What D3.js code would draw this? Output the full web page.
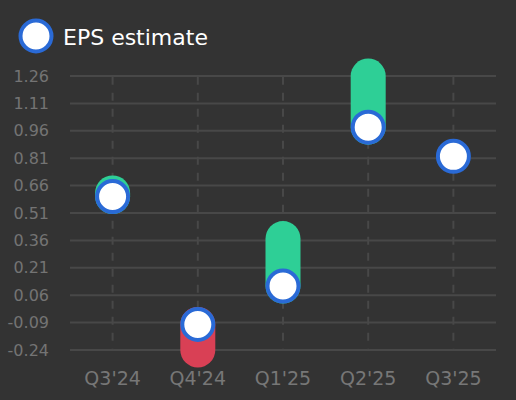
<!DOCTYPE html>
<html lang="en">
  <head>
    <meta charset="utf-8">
    <title>EPS estimate</title>
    <style>
    body { margin: 0; background: #333333; }
    svg { display: block; font-family: "DejaVu Sans", sans-serif; }
    .grid line { stroke: #484848; stroke-width: 2; }
    .vgrid line { stroke: #484848; stroke-width: 2; stroke-dasharray: 8,8; }
    </style>
  </head>
  <body>
    <svg width="516" height="400" id="svg"></svg>

    <script src="https://d3js.org/d3.v7.min.js"></script>
    <script>

    var quarters = ["Q3'24", "Q4'24", "Q1'25", "Q2'25", "Q3'25"];
    var estimates = [0.60, -0.10, 0.11, 0.98, 0.82];
    var actuals = [0.62, -0.24, 0.37, 1.26, null];
    var yTicks = [-0.24, -0.09, 0.06, 0.21, 0.36, 0.51, 0.66, 0.81, 0.96, 1.11, 1.26];

    var svg = d3.select("svg"),
        margin = {top: 76, right: 20, bottom: 50, left: 70},
        width = +svg.attr("width") - margin.left - margin.right,
        height = +svg.attr("height") - margin.top - margin.bottom;

    svg.append("rect")
        .attr("width", 516)
        .attr("height", 400)
        .attr("fill", "#333333");

    var x = d3.scaleBand().domain(quarters).range([0, width]),
        y = d3.scaleLinear().domain([-0.24, 1.26]).range([height, 0]);

    var g = svg.append("g")
        .attr("transform", "translate(" + margin.left + "," + margin.top + ")");

    // horizontal grid
    g.append("g")
        .attr("class", "grid")
        .selectAll("line")
        .data(yTicks)
        .enter().append("line")
          .attr("x1", 0)
          .attr("x2", width)
          .attr("y1", function(d) { return y(d); })
          .attr("y2", function(d) { return y(d); });

    // y labels (plain hyphen for negatives)
    g.append("g")
        .selectAll("text")
        .data(yTicks)
        .enter().append("text")
          .attr("x", -21)
          .attr("y", function(d) { return y(d); })
          .attr("dy", "0.35em")
          .attr("text-anchor", "end")
          .attr("fill", "#747474")
          .style("font-size", "16px")
          .text(function(d) { return d.toFixed(2); });

    // vertical dashed lines
    g.append("g")
        .attr("class", "vgrid")
        .selectAll("line")
        .data(quarters)
        .enter().append("line")
          .attr("x1", function(d) { return x(d) + x.bandwidth() / 2; })
          .attr("x2", function(d) { return x(d) + x.bandwidth() / 2; })
          .attr("y1", 0.7)
          .attr("y2", height);

    // x labels
    g.append("g")
        .selectAll("text")
        .data(quarters)
        .enter().append("text")
          .attr("x", function(d) { return x(d) + x.bandwidth() / 2; })
          .attr("y", height + 35)
          .attr("text-anchor", "middle")
          .attr("fill", "#777777")
          .style("font-size", "19px")
          .text(function(d) { return d; });

    var barW = 35, r = barW / 2;

    var rows = quarters.map(function(q, i) {
      return {q: q, est: estimates[i], act: actuals[i]};
    });

    // actual vs estimate capsules
    g.selectAll(".bar")
      .data(rows.filter(function(d) { return d.act !== null; }))
      .enter().append("rect")
        .attr("class", "bar")
        .attr("x", function(d) { return x(d.q) + x.bandwidth() / 2 - r; })
        .attr("y", function(d) { return y(Math.max(d.act, d.est)) - r; })
        .attr("width", barW)
        .attr("height", function(d) { return Math.abs(y(d.act) - y(d.est)) + barW; })
        .attr("rx", r)
        .attr("fill", function(d) { return d.act >= d.est ? "#2ecf96" : "#d94055"; });

    // estimate dots
    g.selectAll(".dot")
      .data(rows)
      .enter().append("circle")
        .attr("class", "dot")
        .attr("cx", function(d) { return x(d.q) + x.bandwidth() / 2; })
        .attr("cy", function(d) { return y(d.est); })
        .attr("r", r - 2)
        .attr("fill", "#ffffff")
        .attr("stroke", "#2a6ad6")
        .attr("stroke-width", 4);

    // legend
    var legend = svg.append("g").attr("transform", "translate(36,36)");
    legend.append("circle")
        .attr("r", r - 2)
        .attr("fill", "#ffffff")
        .attr("stroke", "#2a6ad6")
        .attr("stroke-width", 4);
    legend.append("text")
        .attr("x", 27)
        .attr("y", 9)
        .attr("fill", "#ffffff")
        .style("font-size", "22px")
        .text("EPS estimate");

    </script>
  </body>
</html>
